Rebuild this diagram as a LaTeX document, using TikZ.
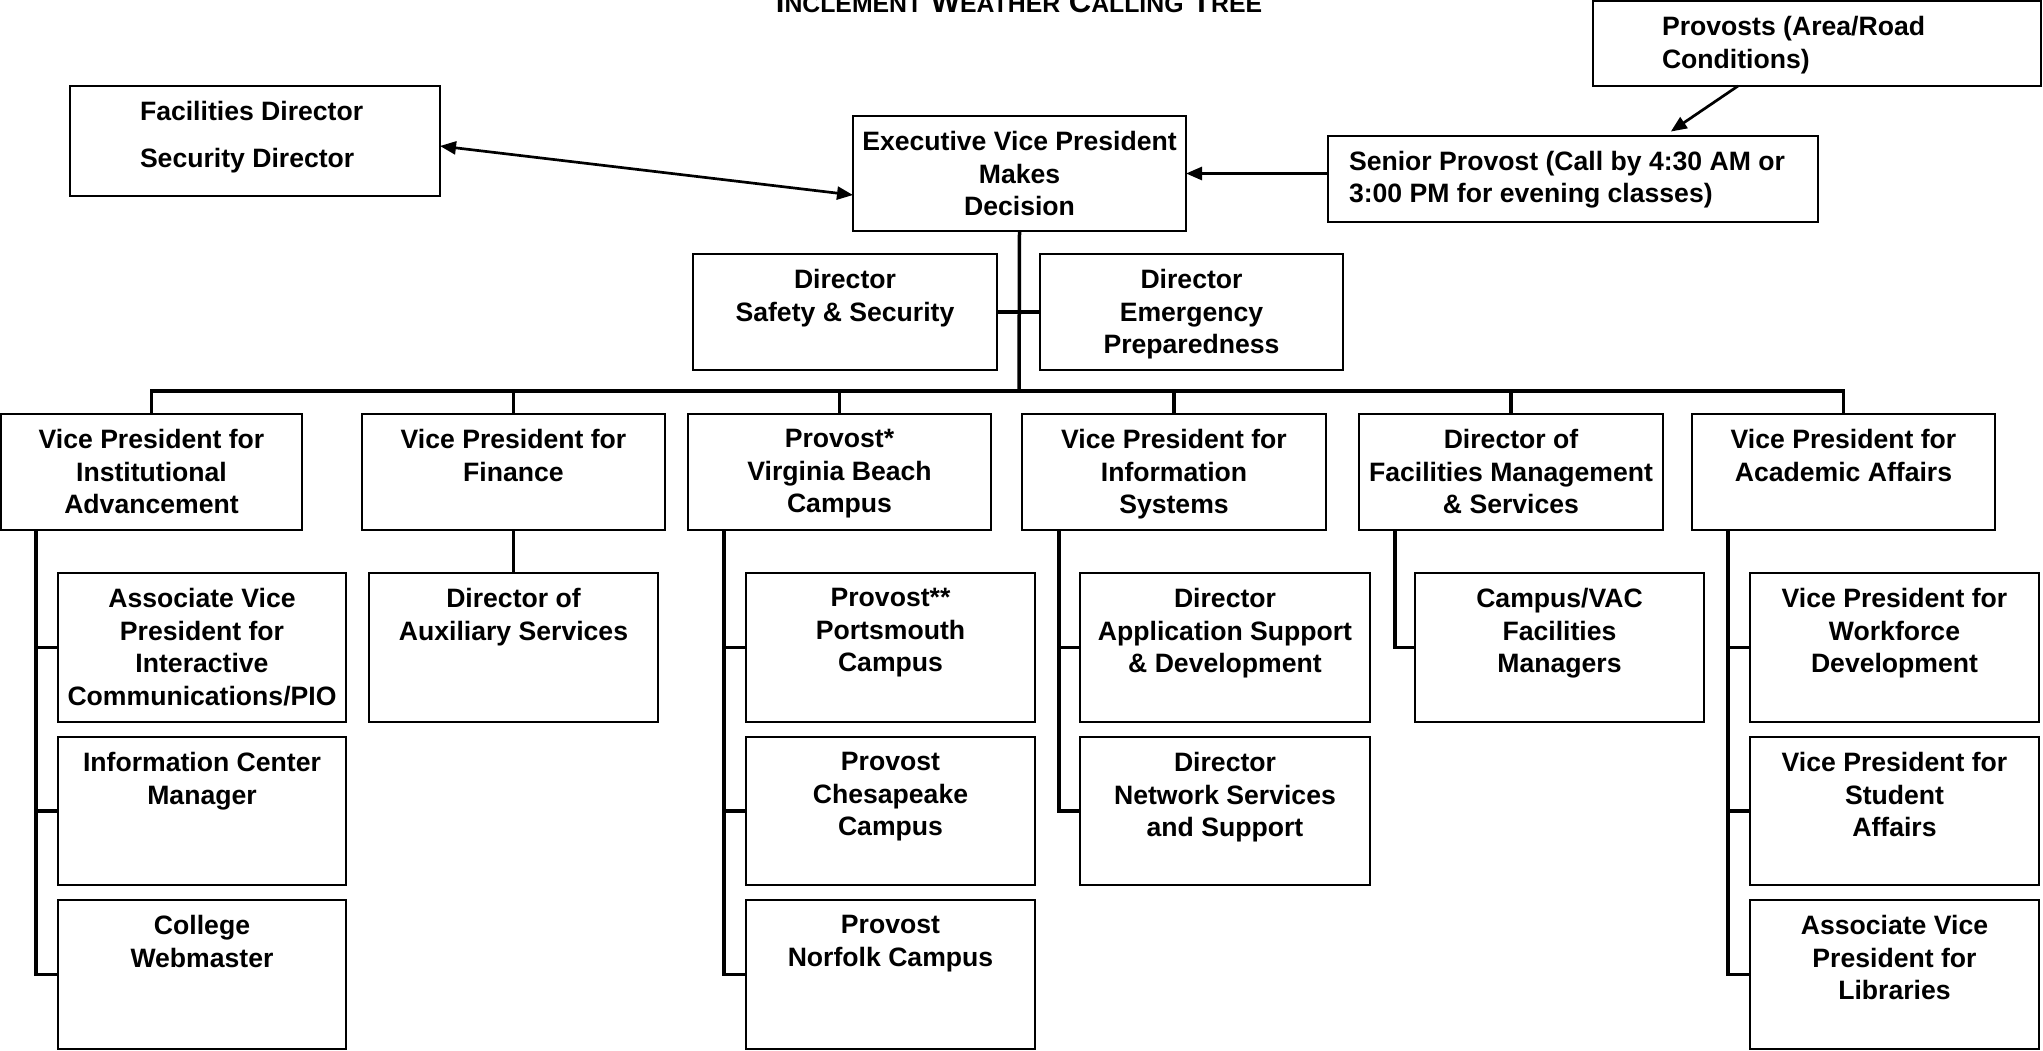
\documentclass[tikz,border=0pt]{standalone}
\usepackage{fontspec}
\setmainfont{Liberation Sans}
\usetikzlibrary{arrows.meta}
\newcommand\tsc[2]{{\fontsize{31}{31}\selectfont #1}{\fontsize{24.8}{31}\selectfont #2}}
\newcommand\obox[6]{%
  \node[box, minimum width=#4pt, minimum height=#5pt] (#1) at (#2,#3) {};
  \node[tx] (#1-t) at ([yshift=-15.2pt]#1.north) {#6};}
\begin{document}
\begin{tikzpicture}[x=1pt,y=-1pt,
  box/.style={draw, line width=2pt, inner sep=0pt, outer sep=0pt, anchor=north west},
  tx/.style={inner sep=0pt, outer sep=0pt, align=center, anchor=north,
    font=\fontsize{26.6}{32.6}\selectfont\bfseries, execute at begin node=\strut},
  conn/.style={line width=3.5pt},
  arr/.style={line width=2.7pt, -{Triangle[length=16pt,width=13pt]}},
  darr/.style={line width=2.7pt, {Triangle[length=16pt,width=13pt]}-{Triangle[length=16pt,width=13pt]}}]
\clip (0,0) rectangle (2043,1050);
\fill[white] (0,0) rectangle (2043,1050);

% title
\node[anchor=base, inner sep=0pt, font=\fontsize{31}{31}\selectfont\bfseries] (title) at (1019,12)
  {\tsc{I}{NCLEMENT} \tsc{W}{EATHER} \tsc{C}{ALLING} \tsc{T}{REE}};

% top boxes
\node[box, minimum width=448pt, minimum height=85pt] (prov) at (1593,1) {};
\node[tx, align=left, anchor=north west] (prov-t) at ([xshift=69pt,yshift=-15.2pt]prov.north west) {Provosts (Area/Road\\Conditions)};
\node[box, minimum width=490pt, minimum height=86pt] (sp) at (1328,135.5) {};
\node[tx, align=left, anchor=north west] (sp-t) at ([xshift=21pt,yshift=-15.5pt]sp.north west) {Senior Provost (Call by 4:30 AM or\\3:00 PM for evening classes)};
\node[box, minimum width=370pt, minimum height=110pt] (fac) at (70,86) {};
\node[tx, align=left, anchor=north west] (fac-t) at ([xshift=70pt,yshift=-15.2pt]fac.north west) {Facilities Director\\[14.4pt]Security Director};
\obox{evp}{853}{116}{333}{115}{Executive Vice President\\Makes\\Decision}
\obox{saf}{693}{254}{304}{116}{Director\\Safety \& Security}
\obox{eme}{1040}{254}{303}{116}{Director\\Emergency\\Preparedness}

% level 2
\obox{la}{1}{414}{301}{116}{Vice President for\\Institutional\\Advancement}
\obox{lb}{362}{414}{303}{116}{Vice President for\\Finance}
\obox{lc}{688}{414}{303}{116}{Provost*\\Virginia Beach\\Campus}
\obox{ld}{1022}{414}{304}{116}{Vice President for\\Information\\Systems}
\obox{le}{1359}{414}{304}{116}{Director of\\Facilities Management\\\& Services}
\obox{lf}{1692}{414}{303}{116}{Vice President for\\Academic Affairs}

% level 3
\obox{a1}{58}{573}{288}{149}{Associate Vice\\President for\\Interactive\\Communications/PIO}
\obox{a2}{58}{737}{288}{148}{Information Center\\Manager}
\obox{a3}{58}{900}{288}{149}{College\\Webmaster}
\obox{b1}{369}{573}{289}{149}{Director of\\Auxiliary Services}
\obox{c1}{746}{573}{289}{149}{Provost**\\Portsmouth\\Campus}
\obox{c2}{746}{737}{289}{148}{Provost\\Chesapeake\\Campus}
\obox{c3}{746}{900}{289}{149}{Provost\\Norfolk Campus}
\obox{d1}{1080}{573}{290}{149}{Director\\Application Support\\\& Development}
\obox{d2}{1080}{737}{290}{148}{Director\\Network Services\\and Support}
\obox{e1}{1415}{573}{289}{149}{Campus/VAC\\Facilities\\Managers}
\obox{f1}{1750}{573}{289}{149}{Vice President for\\Workforce\\Development}
\obox{f2}{1750}{737}{289}{148}{Vice President for\\Student\\Affairs}
\obox{f3}{1750}{900}{289}{149}{Associate Vice\\President for\\Libraries}

% arrows
\draw[darr] ([yshift=-5pt]fac.east) -- ([yshift=-21.5pt]evp.west);
\draw[arr] (sp.west |- evp.east) -- (evp.east);
\draw[arr, shorten >=7pt] ([xshift=-79pt]prov.south) -- ([xshift=92pt]sp.north);

% tree
\coordinate (bus) at (1019,391);
\draw[conn] (evp.south) -- (bus);
\draw[conn] (saf.east) -- (eme.west);
\draw[conn] (la.north) -- (la.north |- bus) -- (lf.north |- bus) -- (lf.north);
\foreach \n in {lb,lc,ld,le} \draw[conn] (\n.north) -- (\n.north |- bus);
\draw[conn] (lb.south) -- (b1.north);

\coordinate (sa) at ([xshift=35pt]la.south west);
\draw[conn] (sa) |- (a3.west);
\draw[conn] (a1.west -| sa) -- (a1.west);
\draw[conn] (a2.west -| sa) -- (a2.west);
\coordinate (sc) at ([xshift=36pt]lc.south west);
\draw[conn] (sc) |- (c3.west);
\draw[conn] (c1.west -| sc) -- (c1.west);
\draw[conn] (c2.west -| sc) -- (c2.west);
\coordinate (sd) at ([xshift=37pt]ld.south west);
\draw[conn] (sd) |- (d2.west);
\draw[conn] (d1.west -| sd) -- (d1.west);
\coordinate (se) at ([xshift=36pt]le.south west);
\draw[conn] (se) |- (e1.west);
\coordinate (sf) at ([xshift=36pt]lf.south west);
\draw[conn] (sf) |- (f3.west);
\draw[conn] (f1.west -| sf) -- (f1.west);
\draw[conn] (f2.west -| sf) -- (f2.west);
\end{tikzpicture}
\end{document}
